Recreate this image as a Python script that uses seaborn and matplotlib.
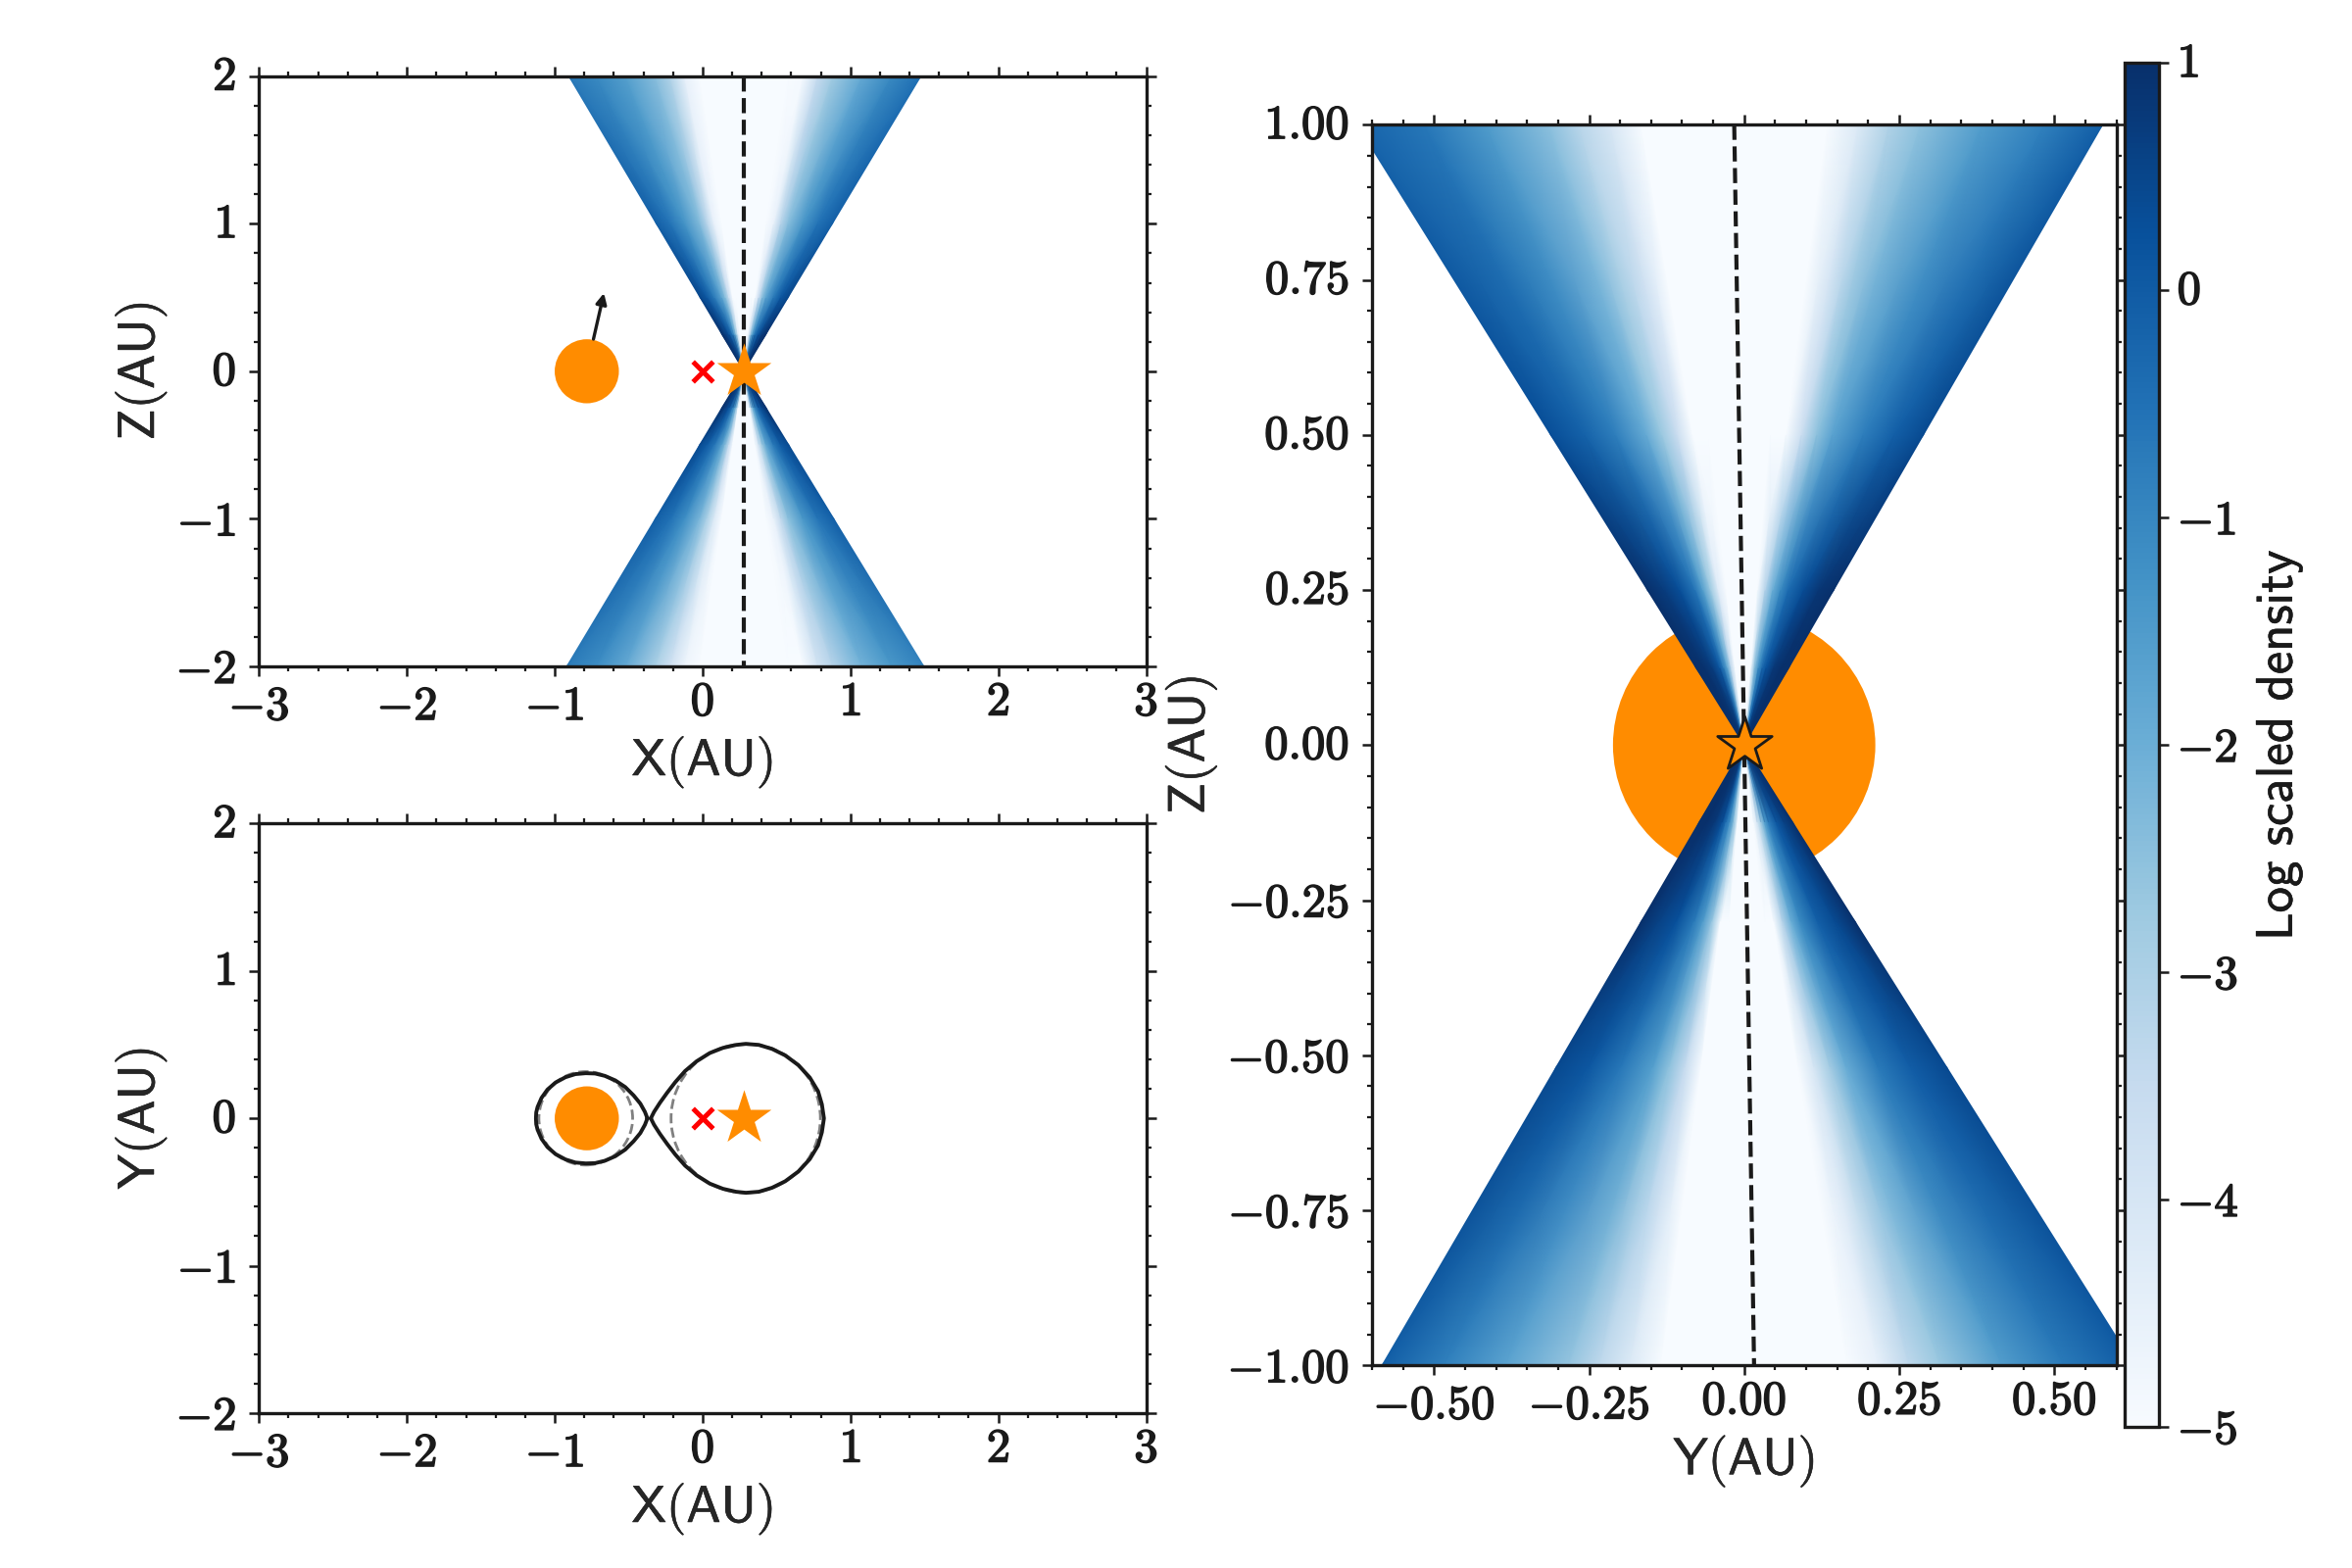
import numpy as np
import seaborn as sns
import matplotlib
matplotlib.use('Agg')
import matplotlib.pyplot as plt
import matplotlib.patheffects as pe
from matplotlib.patches import Circle
from matplotlib.ticker import FuncFormatter, MultipleLocator
from matplotlib.transforms import ScaledTranslation

sns.set_theme(style='ticks')
plt.rcParams['mathtext.fontset'] = 'cm'

ORANGE = '#ff8c00'

# wedge columns: horizontal offset from the axis per unit of |Z|
yz_upper_t = [-0.608, -0.5, -0.4, -0.3, -0.25, -0.2, -0.15, -0.1, 0.1, 0.15, 0.2, 0.25, 0.3, 0.4, 0.5, 0.594]
yz_lower_t = [-0.6, -0.5, -0.4, -0.3, -0.25, -0.2, -0.15, -0.1, 0.1, 0.15, 0.2, 0.25, 0.3, 0.4, 0.5, 0.613]
xz_upper_t = [-0.592, -0.5, -0.4, -0.3, -0.25, -0.2, -0.15, -0.1, 0.1, 0.15, 0.2, 0.25, 0.3, 0.4, 0.5, 0.599]
xz_lower_t = [-0.599, -0.5, -0.4, -0.3, -0.25, -0.2, -0.15, -0.1, 0.1, 0.15, 0.2, 0.25, 0.3, 0.4, 0.5, 0.609]

# log density (Y-Z)
yz_upper_z = [0.01, 0.125, 0.25, 0.5, 1.0]
yz_upper = [
    [1.0, 1.0, 1.0, 1.0, 0.5, -0.5, -3.0, -5.0, -5.0, -3.0, -0.5, 0.5, 1.0, 1.0, 1.0, 1.0],
    [1.0, 0.95, 0.7, 0.1, -0.7, -1.8, -3.4, -5.0, -5.0, -2.4, -1.2, -0.3, 0.2, 0.8, 1.0, 1.0],
    [1.0, 0.7, 0.3, -0.6, -1.6, -2.75, -4.3, -5.0, -5.0, -3.2, -2.0, -1.1, -0.4, 0.35, 0.85, 1.0],
    [0.3, -0.15, -0.8, -1.9, -2.7, -3.6, -5.0, -5.0, -5.0, -5.0, -3.7, -2.5, -1.7, -0.8, -0.1, 0.4],
    [-0.2, -0.65, -1.5, -2.45, -3.25, -4.0, -5.0, -5.0, -5.0, -5.0, -4.2, -3.1, -2.5, -1.55, -0.85, -0.1],
]
yz_lower_z = [0.01, 0.125, 0.285, 0.52, 1.0]
yz_lower = [
    [1.0, 1.0, 1.0, 1.0, 0.5, -0.5, -3.0, -5.0, -5.0, -3.0, -0.5, 0.5, 1.0, 1.0, 1.0, 1.0],
    [1.0, 1.0, 0.8, 0.3, -0.5, -1.2, -2.4, -5.0, -5.0, -4.0, -2.8, -1.6, -0.8, 0.1, 0.6, 1.0],
    [1.0, 0.6, 0.25, -0.7, -1.5, -2.6, -5.0, -5.0, -5.0, -5.0, -3.2, -2.0, -1.1, -0.1, 0.4, 1.0],
    [0.42, 0.1, -0.65, -1.6, -2.5, -3.5, -5.0, -5.0, -5.0, -5.0, -4.0, -2.85, -1.95, -0.7, -0.05, 0.42],
    [-0.1, -0.85, -1.7, -2.6, -3.35, -4.2, -5.0, -5.0, -5.0, -5.0, -4.5, -3.35, -2.7, -1.55, -0.7, 0.0],
]

# log density (X-Z)
xz_z = [0.01, 0.25, 0.5, 1.0, 2.0]
xz_upper = [
    [1.0, 1.0, 1.0, 1.0, 0.5, -0.5, -3.0, -5.0, -5.0, -3.0, -0.5, 0.5, 1.0, 1.0, 1.0, 1.0],
    [1.0, 0.7, 0.3, -0.6, -1.5, -2.7, -4.4, -5.0, -5.0, -3.6, -2.2, -1.2, -0.5, 0.3, 0.8, 1.0],
    [0.5, 0.1, -0.7, -1.7, -2.4, -3.6, -5.0, -5.0, -5.0, -5.0, -3.6, -2.4, -1.7, -0.7, 0.1, 0.5],
    [-0.1, -0.55, -1.3, -2.3, -3.2, -4.6, -5.0, -5.0, -5.0, -5.0, -4.6, -3.2, -2.4, -1.35, -0.55, -0.1],
    [-0.7, -1.05, -1.6, -2.4, -3.1, -4.5, -5.0, -5.0, -5.0, -5.0, -4.9, -3.5, -2.8, -1.85, -1.05, -0.5],
]
xz_lower = [
    [1.0, 1.0, 1.0, 1.0, 0.5, -0.5, -3.0, -5.0, -5.0, -3.0, -0.5, 0.5, 1.0, 1.0, 1.0, 1.0],
    [1.0, 0.65, 0.25, -0.7, -1.5, -2.6, -5.0, -5.0, -5.0, -5.0, -3.0, -1.8, -1.0, 0.0, 0.5, 1.0],
    [0.4, 0.0, -0.6, -1.6, -2.4, -3.6, -5.0, -5.0, -5.0, -5.0, -3.9, -2.7, -1.8, -0.7, 0.0, 0.4],
    [-0.1, -0.5, -1.2, -2.2, -3.0, -4.2, -5.0, -5.0, -5.0, -5.0, -4.6, -3.4, -2.5, -1.4, -0.6, -0.1],
    [-0.75, -1.15, -1.85, -3.0, -3.8, -4.7, -5.0, -5.0, -5.0, -5.0, -5.0, -3.9, -3.2, -2.1, -1.4, -0.9],
]

# axis of the flow, horizontal position at the two ends of each panel
yz_axis_z = [1.0, -1.0]
yz_axis_y = [-0.016, 0.016]
xz_axis_z = [2.0, -2.0]
xz_axis_x = [0.279, 0.279]

# roche lobes, upper half outline
lobe_left_x = [-0.373, -0.39, -0.421, -0.466, -0.523, -0.59, -0.661, -0.727, -0.79, -0.86, -0.927, -0.994, -1.049, -1.089, -1.116, -1.125, -1.127]
lobe_left_y = [0.0, 0.044, 0.1, 0.155, 0.212, 0.257, 0.288, 0.304, 0.306, 0.3, 0.279, 0.243, 0.195, 0.139, 0.077, 0.04, 0.0]
lobe_right_x = [-0.35, -0.328, -0.288, -0.24, -0.184, -0.118, -0.04, 0.049, 0.138, 0.226, 0.293, 0.381, 0.47, 0.559, 0.648, 0.725, 0.781, 0.807, 0.821]
lobe_right_y = [0.0, 0.044, 0.106, 0.173, 0.246, 0.321, 0.387, 0.443, 0.478, 0.498, 0.505, 0.498, 0.471, 0.427, 0.361, 0.277, 0.184, 0.095, 0.0]

planet_x = -0.783
planet_r_xz = 0.217
planet_r_yz = 0.2115
planet_y_yz = 0.0
star_x = 0.28
star_y_yz = 0.0
arrow_start = (-0.738, 0.218)
arrow_end = (-0.667, 0.53)
dash_left = (-0.79, 0.317)
dash_right = (0.292, 0.505)

cbar_ticks = [-5, -4, -3, -2, -1, 0, 1]

W, H = 2400, 1600
fig = plt.figure(figsize=(12, 8), dpi=200)
BOLD = [pe.withStroke(linewidth=0.55, foreground='k')]
HEAVY = [pe.withStroke(linewidth=0.2, foreground='k')]


def add_ax(x0, x1, y0, y1):
    return fig.add_axes([x0 / W, 1 - y1 / H, (x1 - x0) / W, (y1 - y0) / H])


def bold_tick(v, pos, fmt):
    s = fmt % abs(v)
    if v < -1e-9:
        return r'$\mathbf{-' + s + '}$'
    return r'$\mathbf{' + s + '}$'


def nudge_negative(lab, dy_pt):
    # negative tick labels sit a little lower than the others in the original
    if '{-' in lab.get_text():
        lab.set_transform(lab.get_transform() + ScaledTranslation(0, -dy_pt / 72, fig.dpi_scale_trans))


def style_ax(ax, xmaj, xmin, ymaj, ymin, xfmt, yfmt, size=17.5):
    ax.xaxis.set_major_locator(MultipleLocator(xmaj))
    ax.xaxis.set_minor_locator(MultipleLocator(xmin))
    ax.yaxis.set_major_locator(MultipleLocator(ymaj))
    ax.yaxis.set_minor_locator(MultipleLocator(ymin))
    ax.xaxis.set_major_formatter(FuncFormatter(lambda v, p: bold_tick(v, p, xfmt)))
    ax.yaxis.set_major_formatter(FuncFormatter(lambda v, p: bold_tick(v, p, yfmt)))
    ax.tick_params(which='major', direction='out', length=3.6, width=0.9, top=True, right=True,
                   labelsize=size, color='k', labelcolor='k')
    ax.tick_params(axis='x', which='major', pad=0.6)
    ax.tick_params(axis='y', which='major', pad=4.8)
    ax.tick_params(which='minor', direction='out', length=1.9, width=0.8, top=True, right=True, bottom=True, left=True, color='k')
    for s in ax.spines.values():
        s.set_visible(True)
        s.set_linewidth(1.2)
        s.set_color('k')
    for lab in ax.get_xticklabels():
        lab.set_path_effects(BOLD)
        nudge_negative(lab, 1.65)
    for lab in ax.get_yticklabels():
        lab.set_path_effects(BOLD)
        lab.set_verticalalignment('center')
        nudge_negative(lab, 1.1)


def draw_cone(ax, t_cols, levels, table, sign, axis_z, axis_h, cmap):
    tt, zz = np.meshgrid(np.array(t_cols), np.array(levels))
    slope = (axis_h[1] - axis_h[0]) / (axis_z[1] - axis_z[0])
    centre = axis_h[0] + slope * (sign * zz - axis_z[0])
    ax.pcolormesh(centre + tt * zz, sign * zz, np.array(table), cmap=cmap, vmin=-5, vmax=1,
                  shading='gouraud', rasterized=True, zorder=2)


def set_labels(ax, xlabel, ylabel, ypad):
    ax.set_xlabel(r'$\mathsf{' + xlabel + '}$', fontsize=19, labelpad=1.5, path_effects=HEAVY)
    ax.set_ylabel(r'$\mathsf{' + ylabel + '}$', fontsize=19, labelpad=ypad, path_effects=HEAVY)


cmap = sns.color_palette('Blues', as_cmap=True)

# X-Z panel
ax1 = add_ax(264.3, 1169.5, 77.7, 680)
ax1.set_xlim(-3, 3)
ax1.set_ylim(-2, 2)
draw_cone(ax1, xz_upper_t, xz_z, xz_upper, 1, xz_axis_z, xz_axis_x, cmap)
draw_cone(ax1, xz_lower_t, xz_z, xz_lower, -1, xz_axis_z, xz_axis_x, cmap)
sns.lineplot(x=xz_axis_x, y=xz_axis_z, sort=False, estimator=None, color='k', linestyle='--', linewidth=1.5, ax=ax1, zorder=3)
ax1.add_patch(Circle((planet_x, 0), planet_r_xz, fc=ORANGE, ec='none', zorder=3))
ax1.annotate('', xy=arrow_end, xytext=arrow_start,
             arrowprops=dict(arrowstyle='-|>', color='k', lw=1.2, shrinkA=0, shrinkB=0, mutation_scale=8), zorder=4)
ax1.scatter([star_x], [0], marker='*', s=440, color=ORANGE, linewidths=0, zorder=5)
ax1.scatter([0], [0], marker='x', s=55, color='red', linewidths=1.8, zorder=5)
style_ax(ax1, 1, 0.2, 1, 0.2, '%d', '%d')
set_labels(ax1, 'X(AU)', 'Z(AU)', 2.5)

# X-Y panel
ax2 = add_ax(264.3, 1169.5, 840.3, 1442)
ax2.set_xlim(-3, 3)
ax2.set_ylim(-2, 2)
ax2.add_patch(Circle((dash_left[0], 0), dash_left[1], fc='none', ec='gray', ls='--', lw=1.0, zorder=2))
ax2.add_patch(Circle((dash_right[0], 0), dash_right[1], fc='none', ec='gray', ls='--', lw=1.0, zorder=2))
for lx, ly in [(lobe_left_x, lobe_left_y), (lobe_right_x, lobe_right_y)]:
    xs = list(lx) + list(lx[::-1])[1:]
    ys = list(ly) + [-v for v in ly[::-1]][1:]
    sns.lineplot(x=xs, y=ys, sort=False, estimator=None, color='#1a1a1a', linewidth=1.4, ax=ax2, zorder=3)
ax2.add_patch(Circle((planet_x, 0), planet_r_xz, fc=ORANGE, ec='none', zorder=3))
ax2.scatter([star_x], [0], marker='*', s=440, color=ORANGE, linewidths=0, zorder=5)
ax2.scatter([0], [0], marker='x', s=55, color='red', linewidths=1.8, zorder=5)
style_ax(ax2, 1, 0.2, 1, 0.2, '%d', '%d')
set_labels(ax2, 'X(AU)', 'Y(AU)', 2.5)

# Y-Z panel
ax3 = add_ax(1400, 2159.5, 127.3, 1393.3)
ax3.set_xlim(-0.6, 0.6)
ax3.set_ylim(-1, 1)
ax3.add_patch(Circle((planet_y_yz, 0), planet_r_yz, fc=ORANGE, ec='none', zorder=1))
draw_cone(ax3, yz_upper_t, yz_upper_z, yz_upper, 1, yz_axis_z, yz_axis_y, cmap)
draw_cone(ax3, yz_lower_t, yz_lower_z, yz_lower, -1, yz_axis_z, yz_axis_y, cmap)
sns.lineplot(x=yz_axis_y, y=yz_axis_z, sort=False, estimator=None, color='k', linestyle='--', linewidth=1.5, ax=ax3, zorder=3)
ax3.scatter([star_y_yz], [0], marker='*', s=440, color=ORANGE, edgecolors='k', linewidths=1.0, zorder=5)
style_ax(ax3, 0.25, 0.05, 0.25, 0.05, '%.2f', '%.2f')
set_labels(ax3, 'Y(AU)', 'Z(AU)', 3)

# colorbar
cax = add_ax(2168.3, 2203.3, 64.3, 1456)
sm = plt.cm.ScalarMappable(cmap=cmap, norm=plt.Normalize(-5, 1))
cb = fig.colorbar(sm, cax=cax, ticks=cbar_ticks)
cb.ax.yaxis.set_major_formatter(FuncFormatter(lambda v, p: bold_tick(v, p, '%d')))
cb.ax.tick_params(length=3.6, width=0.9, labelsize=17.5, pad=3, color='k', labelcolor='k')
for lab in cb.ax.get_yticklabels():
    lab.set_path_effects(BOLD)
    lab.set_verticalalignment('center')
    nudge_negative(lab, 1.1)
cb.outline.set_linewidth(1.2)
cb.outline.set_edgecolor('k')
cb.set_label(r'$\mathsf{Log\ scaled\ density}$', fontsize=19, labelpad=5.5, color='k', path_effects=HEAVY)

fig.savefig('out.png', dpi=200)
